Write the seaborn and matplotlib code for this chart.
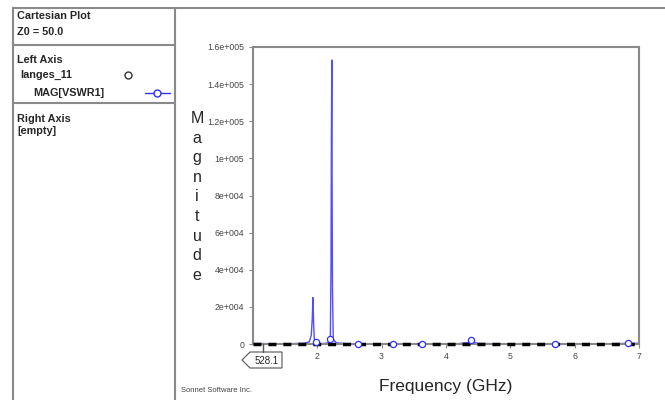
import numpy as np
import matplotlib
matplotlib.use("Agg")
import matplotlib.pyplot as plt
from matplotlib.lines import Line2D
from matplotlib.patches import Polygon
from matplotlib.ticker import FuncFormatter
import seaborn as sns
import pandas as pd

# data (frequency in GHz, magnitude of VSWR1)
freq = [1.0, 1.2, 1.4, 1.6, 1.8, 1.88, 1.91, 1.925, 1.935, 1.94, 1.945, 1.955,
        1.97, 1.99, 2.05, 2.12, 2.18, 2.205, 2.215, 2.222, 2.228, 2.232, 2.238,
        2.25, 2.3, 2.45, 2.64, 2.9, 3.18, 3.4, 3.62, 3.9, 4.2, 4.35, 4.39, 4.43,
        4.5, 4.8, 5.2, 5.69, 6.0, 6.4, 6.83, 7.0]
mag = [300, 200, 150, 200, 400, 1200, 5000, 14000, 25000, 19000, 12000, 3000,
       800, 1000, 200, 300, 800, 2500, 42000, 115000, 153000, 90000, 30000,
       2500, 600, 200, 100, 100, 150, 100, 100, 100, 200, 800, 2200, 900,
       300, 150, 100, 200, 100, 100, 300, 400]
marker_freq = [1.99, 2.205, 2.64, 3.18, 3.62, 4.39, 5.69, 6.83]
marker_mag = [1000, 2500, 100, 150, 100, 2200, 200, 300]
x_ticks = [2, 3, 4, 5, 6, 7]
y_ticks = [0, 20000, 40000, 60000, 80000, 100000, 120000, 140000, 160000]
marker_label = "528.1"

W, H = 665, 400
BLUE = "#3030ff"
GRAY = "#8a8a8a"

sns.set_style("white")
plt.rcParams["font.family"] = ["Liberation Sans", "DejaVu Sans"]

fig = plt.figure(figsize=(W / 100, H / 100), dpi=100)


def px(x, y):
    return x / W, 1 - y / H


def sci(v, pos):
    if v == 0:
        return "0"
    m, e = f"{v:.1e}".split("e")
    m = m.rstrip("0").rstrip(".")
    return f"{m}e+{int(e):03d}"


ax = fig.add_axes([252.7 / W, 1 - 344 / H, (639.3 - 252.7) / W, (344 - 47) / H])
df = pd.DataFrame({"freq": freq, "mag": mag})
sns.lineplot(data=df, x="freq", y="mag", ax=ax, color=BLUE, lw=1, alpha=0.85)
ax.axhline(0, color="black", lw=2.5, linestyle=(0, (2.3, 2.0)), zorder=3, clip_on=False)
mk = pd.DataFrame({"freq": marker_freq, "mag": marker_mag})
sns.scatterplot(data=mk, x="freq", y="mag", ax=ax, marker="o", s=20,
                facecolor="white", edgecolor=BLUE, linewidth=0.9, zorder=4,
                clip_on=False)

ax.set_xlim(1, 7)
ax.set_ylim(0, 160000)
ax.set_xticks(x_ticks)
ax.set_yticks(y_ticks)
ax.yaxis.set_major_formatter(FuncFormatter(sci))
ax.tick_params(labelsize=6.3, colors="#444444", length=3, width=0.8,
               left=True, bottom=True, pad=3)
ax.tick_params(axis="both", color=GRAY)
ax.set_xlabel("")
ax.set_ylabel("")
for s in ax.spines.values():
    s.set_color(GRAY)
    s.set_linewidth(1.5)

# stacked y label and x label
fig.text(*px(197, 197), "M\na\ng\nn\ni\nt\nu\nd\ne", ha="center", va="center",
         fontsize=11.5, linespacing=1.38)
fig.text(*px(446, 386), "Frequency (GHz)", ha="center", va="center", fontsize=12.5)
fig.text(*px(181, 390), "Sonnet Software Inc.", ha="left", va="center",
         fontsize=5.5, color="#444444")

# marker tag "528.1"
fig.add_artist(Line2D([262.5 / W, 262.5 / W], [1 - 344 / H, 1 - 352 / H], color="#555555", lw=1))
tag = [px(242, 360), px(250, 352), px(282, 352), px(282, 368), px(250, 368)]
fig.add_artist(Polygon(tag, closed=True, facecolor="white", edgecolor="#555555", lw=0.8))
fig.text(*px(267, 360.5), marker_label, ha="center", va="center", fontsize=7)

# side panel borders
for (x0, y0, x1, y1) in [(13, 7.5, 665, 7.5), (13, 7.5, 13, 400), (175, 7.5, 175, 400),
                         (13, 45, 175, 45), (13, 103, 175, 103)]:
    fig.add_artist(Line2D([x0 / W, x1 / W], [1 - y0 / H, 1 - y1 / H], color=GRAY, lw=1.5))

bold = dict(fontsize=7.8, fontweight="bold", va="center", ha="left")
fig.text(*px(17, 16), "Cartesian Plot", **bold)
fig.text(*px(17, 32), "Z0 = 50.0", **bold)
fig.text(*px(17, 60), "Left Axis", **bold)
fig.text(*px(20, 75), "langes_11", **bold)
fig.text(*px(33, 93), "MAG[VSWR1]", **bold)
fig.text(*px(17, 119), "Right Axis", **bold)
fig.text(*px(17, 131), "[empty]", **bold)

fig.add_artist(Line2D([128 / W], [1 - 75 / H], marker="o", markersize=5,
                      markerfacecolor="white", markeredgecolor="#333333", lw=0))
fig.add_artist(Line2D([145 / W, 170 / W], [1 - 93 / H, 1 - 93 / H], color=BLUE, lw=1))
fig.add_artist(Line2D([157 / W], [1 - 93 / H], marker="o", markersize=5,
                      markerfacecolor="white", markeredgecolor=BLUE, lw=0))

fig.savefig("out.png", dpi=100)
